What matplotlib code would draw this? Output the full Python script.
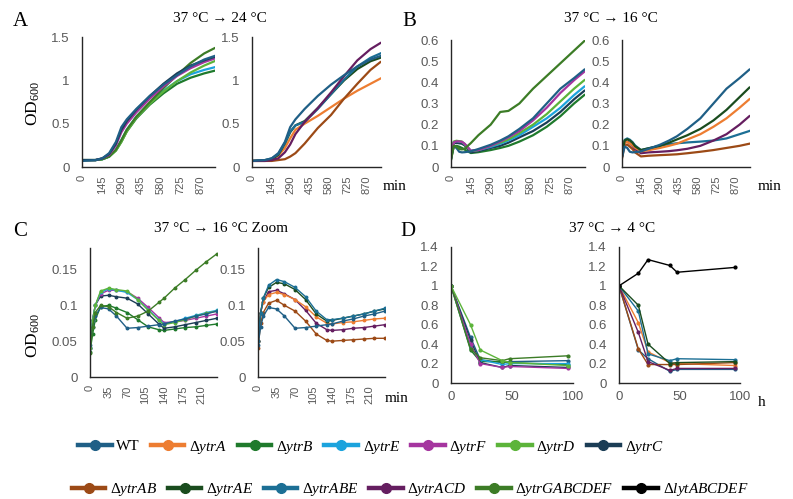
import numpy as np
import matplotlib
matplotlib.use('Agg')
import matplotlib.pyplot as plt
from matplotlib.lines import Line2D
from matplotlib.ticker import FuncFormatter
from matplotlib.font_manager import FontProperties

plt.rcParams.update({
    'font.family': 'sans-serif',
    'font.sans-serif': ['Liberation Sans', 'DejaVu Sans'],
    'mathtext.fontset': 'custom',
    'mathtext.rm': 'Liberation Serif',
    'mathtext.it': 'Liberation Serif:italic',
    'mathtext.bf': 'Liberation Serif:bold',
})

# ---- strains / colours ----
strain_names = ['WT', 'ytrA', 'ytrB', 'ytrE', 'ytrF', 'ytrD', 'ytrC',
                'ytrAB', 'ytrAE', 'ytrABE', 'ytrACD', 'ytrGABCDEF', 'lytABCDEF']
strain_colors = ['#1F5F86', '#ED7D31', '#1F7A2C', '#1BA3DD', '#A5359F', '#5CB43A', '#1B3D55',
                 '#9C4A16', '#1A4C1E', '#1C6F95', '#651E60', '#3C7C26', '#000000']
COL = dict(zip(strain_names, strain_colors))

# ---- A: 37 -> 24 C (min) ----
t_a = [0, 100, 150, 200, 250, 290, 330, 400, 500, 600, 700, 800, 900, 975]
wt_a = [0.07, 0.08, 0.10, 0.16, 0.29, 0.46, 0.55, 0.67, 0.82, 0.95, 1.06, 1.16, 1.24, 1.28]
b_a = [0.08, 0.08, 0.09, 0.12, 0.19, 0.29, 0.41, 0.56, 0.72, 0.85, 0.96, 1.03, 1.08, 1.11]
e_a = [0.08, 0.08, 0.09, 0.12, 0.20, 0.31, 0.43, 0.58, 0.74, 0.88, 0.99, 1.07, 1.12, 1.15]
f_a = [0.08, 0.08, 0.10, 0.14, 0.25, 0.40, 0.50, 0.63, 0.79, 0.93, 1.05, 1.14, 1.21, 1.25]
d_a = [0.08, 0.08, 0.09, 0.12, 0.19, 0.29, 0.41, 0.57, 0.73, 0.87, 0.99, 1.09, 1.17, 1.22]
c_a = [0.08, 0.08, 0.10, 0.15, 0.27, 0.43, 0.53, 0.66, 0.82, 0.96, 1.08, 1.17, 1.23, 1.27]
g_a = [0.08, 0.08, 0.09, 0.12, 0.20, 0.31, 0.43, 0.58, 0.75, 0.91, 1.06, 1.20, 1.31, 1.37]
a_a = [0.07, 0.07, 0.09, 0.13, 0.22, 0.33, 0.43, 0.50, 0.59, 0.69, 0.79, 0.88, 0.96, 1.02]
ab_a = [0.07, 0.07, 0.07, 0.08, 0.09, 0.12, 0.16, 0.27, 0.45, 0.60, 0.79, 0.96, 1.12, 1.21]
ae_a = [0.07, 0.08, 0.09, 0.14, 0.27, 0.40, 0.48, 0.53, 0.68, 0.84, 1.00, 1.13, 1.22, 1.26]
abe_a = [0.07, 0.08, 0.10, 0.15, 0.28, 0.41, 0.48, 0.52, 0.67, 0.84, 1.01, 1.16, 1.26, 1.31]
acd_a = [0.07, 0.07, 0.08, 0.10, 0.17, 0.26, 0.38, 0.52, 0.68, 0.86, 1.05, 1.23, 1.36, 1.43]

# ---- B: 37 -> 16 C (min) ----
t_b = [0, 20, 40, 60, 80, 100, 145, 200, 290, 360, 420, 500, 600, 700, 800, 900, 975]
wt_b = [0.045, 0.097, 0.09, 0.072, 0.069, 0.07, 0.074, 0.085, 0.105, 0.125, 0.145, 0.18, 0.23, 0.30, 0.37, 0.42, 0.46]
b_b = [0.035, 0.098, 0.100, 0.096, 0.090, 0.082, 0.066, 0.07, 0.08, 0.09, 0.10, 0.12, 0.15, 0.19, 0.24, 0.30, 0.34]
e_b = [0.04, 0.118, 0.122, 0.120, 0.118, 0.108, 0.077, 0.08, 0.095, 0.11, 0.125, 0.15, 0.19, 0.23, 0.28, 0.34, 0.38]
f_b = [0.04, 0.116, 0.121, 0.121, 0.119, 0.110, 0.077, 0.08, 0.10, 0.12, 0.14, 0.17, 0.22, 0.28, 0.35, 0.41, 0.45]
d_b = [0.04, 0.120, 0.124, 0.122, 0.120, 0.108, 0.075, 0.08, 0.10, 0.115, 0.13, 0.16, 0.20, 0.25, 0.31, 0.37, 0.41]
c_b = [0.04, 0.113, 0.114, 0.112, 0.110, 0.102, 0.069, 0.075, 0.09, 0.10, 0.115, 0.14, 0.17, 0.21, 0.26, 0.32, 0.36]
g_b = [0.033, 0.100, 0.096, 0.085, 0.083, 0.087, 0.113, 0.15, 0.20, 0.26, 0.265, 0.30, 0.37, 0.43, 0.49, 0.55, 0.595]
a_b = [0.05, 0.115, 0.118, 0.112, 0.103, 0.091, 0.074, 0.079, 0.09, 0.10, 0.11, 0.13, 0.155, 0.19, 0.23, 0.28, 0.32]
ab_b = [0.04, 0.103, 0.106, 0.096, 0.085, 0.069, 0.050, 0.053, 0.056, 0.058, 0.06, 0.065, 0.072, 0.08, 0.09, 0.10, 0.11]
ae_b = [0.05, 0.125, 0.131, 0.125, 0.115, 0.098, 0.080, 0.088, 0.10, 0.115, 0.13, 0.15, 0.18, 0.22, 0.27, 0.33, 0.375]
abe_b = [0.05, 0.128, 0.135, 0.129, 0.118, 0.102, 0.080, 0.088, 0.10, 0.108, 0.112, 0.116, 0.12, 0.125, 0.135, 0.155, 0.17]
acd_b = [0.05, 0.119, 0.120, 0.112, 0.100, 0.084, 0.065, 0.069, 0.072, 0.075, 0.079, 0.086, 0.10, 0.125, 0.155, 0.20, 0.24]

# ---- C: 37 -> 16 C zoom (min) ----
t_c = [0, 5, 10, 20, 35, 50, 70, 90, 110, 130, 140, 160, 180, 200, 220, 240]
wt_c = [0.045, 0.07, 0.085, 0.097, 0.095, 0.085, 0.068, 0.069, 0.071, 0.073, 0.074, 0.078, 0.081, 0.085, 0.088, 0.092]
b_c = [0.035, 0.06, 0.08, 0.098, 0.100, 0.096, 0.090, 0.080, 0.070, 0.066, 0.065, 0.067, 0.069, 0.070, 0.072, 0.074]
e_c = [0.04, 0.08, 0.10, 0.118, 0.123, 0.121, 0.118, 0.108, 0.094, 0.080, 0.074, 0.077, 0.082, 0.086, 0.090, 0.093]
f_c = [0.04, 0.08, 0.10, 0.116, 0.121, 0.121, 0.119, 0.110, 0.097, 0.083, 0.076, 0.077, 0.079, 0.082, 0.085, 0.088]
d_c = [0.04, 0.08, 0.10, 0.120, 0.124, 0.122, 0.120, 0.108, 0.093, 0.079, 0.073, 0.076, 0.080, 0.085, 0.089, 0.092]
c_c = [0.04, 0.08, 0.10, 0.113, 0.114, 0.112, 0.110, 0.102, 0.088, 0.074, 0.068, 0.070, 0.073, 0.076, 0.079, 0.082]
g_c = [0.033, 0.07, 0.09, 0.100, 0.098, 0.090, 0.082, 0.085, 0.092, 0.104, 0.110, 0.124, 0.136, 0.149, 0.161, 0.172]
a_c = [0.05, 0.09, 0.105, 0.115, 0.118, 0.115, 0.108, 0.098, 0.084, 0.075, 0.074, 0.076, 0.077, 0.079, 0.081, 0.082]
ab_c = [0.04, 0.075, 0.09, 0.103, 0.107, 0.100, 0.092, 0.078, 0.060, 0.051, 0.050, 0.051, 0.052, 0.053, 0.054, 0.054]
ae_c = [0.05, 0.09, 0.11, 0.125, 0.132, 0.130, 0.122, 0.108, 0.088, 0.078, 0.079, 0.082, 0.085, 0.088, 0.092, 0.095]
abe_c = [0.05, 0.09, 0.11, 0.128, 0.136, 0.133, 0.125, 0.112, 0.092, 0.080, 0.080, 0.082, 0.085, 0.088, 0.092, 0.096]
acd_c = [0.05, 0.09, 0.105, 0.119, 0.121, 0.116, 0.108, 0.093, 0.075, 0.066, 0.065, 0.066, 0.068, 0.069, 0.071, 0.073]

# ---- D: 37 -> 4 C (h), relative OD ----
t_d = [0, 16, 24, 42, 48, 96]
wt_dl = [1, 0.47, 0.24, 0.21, 0.22, 0.23]
b_d = [1, 0.34, 0.22, 0.22, 0.21, 0.19]
e_d = [1, 0.37, 0.24, 0.19, 0.20, 0.20]
f_d = [1, 0.40, 0.20, 0.16, 0.17, 0.15]
d_d = [1, 0.60, 0.34, 0.23, 0.21, 0.18]
c_d = [1, 0.44, 0.21, 0.16, 0.18, 0.16]
g_d = [1, 0.35, 0.26, 0.23, 0.25, 0.28]
wt_dr = [1, 0.34, 0.25, 0.12, 0.14, 0.14]
a_d = [1, 0.62, 0.32, 0.21, 0.20, 0.18]
ab_d = [1, 0.35, 0.19, 0.19, 0.19, 0.21]
ae_d = [1, 0.80, 0.40, 0.20, 0.21, 0.22]
abe_d = [1, 0.74, 0.30, 0.23, 0.25, 0.24]
acd_d = [1, 0.52, 0.22, 0.13, 0.15, 0.15]
lyt_d = [1, 1.13, 1.27, 1.21, 1.14, 1.19]

W, H = 793, 499
GRAY = '#595959'
SERIF = 'Liberation Serif'


def box(x0, y0, x1, y1):
    """pixel box -> figure fraction rect"""
    return [x0 / W, 1 - y1 / H, (x1 - x0) / W, (y1 - y0) / H]


def style(ax, xlim, xticks, ylim, yticks, rotate=True, xfs=8):
    for s in ['top', 'right']:
        ax.spines[s].set_visible(False)
    for s in ['left', 'bottom']:
        ax.spines[s].set_color('#262626')
        ax.spines[s].set_linewidth(1.0)
    ax.set_xlim(*xlim)
    ax.set_ylim(*ylim)
    ax.set_xticks(xticks)
    ax.set_yticks(yticks)
    ax.yaxis.set_major_formatter(FuncFormatter(lambda v, _: f'{v:g}'))
    ax.tick_params(axis='y', length=0, labelsize=9.5, labelcolor=GRAY, pad=9)
    ax.tick_params(axis='x', length=0, labelsize=xfs, labelcolor=GRAY, pad=6)
    if rotate:
        for lab in ax.get_xticklabels():
            lab.set_rotation(90)
    ax.patch.set_alpha(0)


fig = plt.figure(figsize=(W / 100, H / 100), dpi=100)

# A
axA1 = fig.add_axes(box(82, 37, 215, 167))
for y, k in [(b_a, 'ytrB'), (e_a, 'ytrE'), (d_a, 'ytrD'), (g_a, 'ytrGABCDEF'),
             (f_a, 'ytrF'), (c_a, 'ytrC'), (wt_a, 'WT')]:
    axA1.plot(t_a, y, color=COL[k], lw=1.6)
style(axA1, (0, 980), np.arange(0, 871, 145), (0, 1.5), [0, 0.5, 1, 1.5])

axA2 = fig.add_axes(box(252, 37, 381, 167))
for y, k in [(a_a, 'ytrA'), (ab_a, 'ytrAB'), (ae_a, 'ytrAE'), (abe_a, 'ytrABE'),
             (acd_a, 'ytrACD'), (wt_a, 'WT')]:
    axA2.plot(t_a, y, color=COL[k], lw=1.6)
style(axA2, (0, 980), np.arange(0, 871, 145), (0, 1.5), [0, 0.5, 1, 1.5])

# B
axB1 = fig.add_axes(box(451, 40, 585, 167))
for y, k in [(b_b, 'ytrB'), (c_b, 'ytrC'), (e_b, 'ytrE'), (d_b, 'ytrD'),
             (f_b, 'ytrF'), (wt_b, 'WT'), (g_b, 'ytrGABCDEF')]:
    axB1.plot(t_b, y, color=COL[k], lw=1.6)
style(axB1, (0, 980), np.arange(0, 871, 145), (0, 0.6), np.arange(0, 0.61, 0.1))

axB2 = fig.add_axes(box(622, 40, 750, 167))
for y, k in [(ab_b, 'ytrAB'), (abe_b, 'ytrABE'), (acd_b, 'ytrACD'), (a_b, 'ytrA'),
             (ae_b, 'ytrAE'), (wt_b, 'WT')]:
    axB2.plot(t_b, y, color=COL[k], lw=1.6)
style(axB2, (0, 980), np.arange(0, 871, 145), (0, 0.6), np.arange(0, 0.61, 0.1))

# C
axC1 = fig.add_axes(box(90, 248, 217, 377))
for y, k in [(b_c, 'ytrB'), (c_c, 'ytrC'), (f_c, 'ytrF'), (e_c, 'ytrE'),
             (d_c, 'ytrD'), (wt_c, 'WT'), (g_c, 'ytrGABCDEF')]:
    axC1.plot(t_c, y, color=COL[k], lw=1.0, marker='o', ms=1.8)
style(axC1, (0, 240), np.arange(0, 211, 35), (0, 0.18), [0, 0.05, 0.1, 0.15])

axC2 = fig.add_axes(box(258, 248, 385, 377))
for y, k in [(ab_c, 'ytrAB'), (acd_c, 'ytrACD'), (a_c, 'ytrA'), (ae_c, 'ytrAE'),
             (abe_c, 'ytrABE'), (wt_c, 'WT')]:
    axC2.plot(t_c, y, color=COL[k], lw=1.0, marker='o', ms=1.8)
style(axC2, (0, 240), np.arange(0, 211, 35), (0, 0.18), [0, 0.05, 0.1, 0.15])

# D
axD1 = fig.add_axes(box(451, 247, 573, 383))
for y, k in [(wt_dl, 'WT'), (b_d, 'ytrB'), (e_d, 'ytrE'), (c_d, 'ytrC'),
             (f_d, 'ytrF'), (g_d, 'ytrGABCDEF'), (d_d, 'ytrD')]:
    axD1.plot(t_d, y, color=COL[k], lw=1.0, marker='o', ms=2)
style(axD1, (0, 100), [0, 50, 100], (0, 1.4), np.arange(0, 1.41, 0.2), rotate=False, xfs=9.5)

axD2 = fig.add_axes(box(619, 247, 740, 383))
for y, k in [(wt_dr, 'WT'), (a_d, 'ytrA'), (ab_d, 'ytrAB'), (acd_d, 'ytrACD'),
             (abe_d, 'ytrABE'), (ae_d, 'ytrAE'), (lyt_d, 'lytABCDEF')]:
    axD2.plot(t_d, y, color=COL[k], lw=1.0, marker='o', ms=2)
style(axD2, (0, 100), [0, 50, 100], (0, 1.4), np.arange(0, 1.41, 0.2), rotate=False, xfs=9.5)

# panel letters and titles
def ftext(x, y, s, **kw):
    fig.text(x / W, 1 - y / H, s, family=SERIF, **kw)

for x, y, s in [(13, 22, 'A'), (402, 21, 'B'), (13, 231, 'C'), (400, 231, 'D')]:
    ftext(x, y, s, size=15, ha='left', va='center')
for x, y, s in [(220, 18, '37 °C → 24 °C'), (611, 18, '37 °C → 16 °C'),
                (221, 229, '37 °C → 16 °C Zoom'), (612, 228, '37 °C → 4 °C')]:
    ftext(x, y, s, size=11, ha='center', va='center')
for y in [103, 335]:
    ftext(33, y, 'OD$_\\mathrm{600}$', size=12.5, rotation=90, ha='center', va='center')
for x, y, s in [(383, 187, 'min'), (758, 187, 'min'), (385, 398, 'min'), (758, 402, 'h')]:
    ftext(x, y, s, size=11, ha='left', va='center')

# legends
def lab(k):
    return k if k == 'WT' else 'Δ$\\mathit{' + k + '}$'

def hnd(k):
    return Line2D([], [], color=COL[k], lw=3.2, marker='o', ms=7)

legprop = FontProperties(family=SERIF, size=11)
row1 = strain_names[:7]
row2 = strain_names[7:]
for keys, (cx, cy) in [(row1, (371, 447)), (row2, (410, 490))]:
    fig.legend([hnd(k) for k in keys], [lab(k) for k in keys], loc='center',
               bbox_to_anchor=(cx / W, 1 - cy / H), ncol=len(keys), frameon=False,
               prop=legprop, handlelength=2.2, handletextpad=0.3, columnspacing=0.7,
               borderpad=0, borderaxespad=0)

fig.savefig('out.png', dpi=100, facecolor='white')
